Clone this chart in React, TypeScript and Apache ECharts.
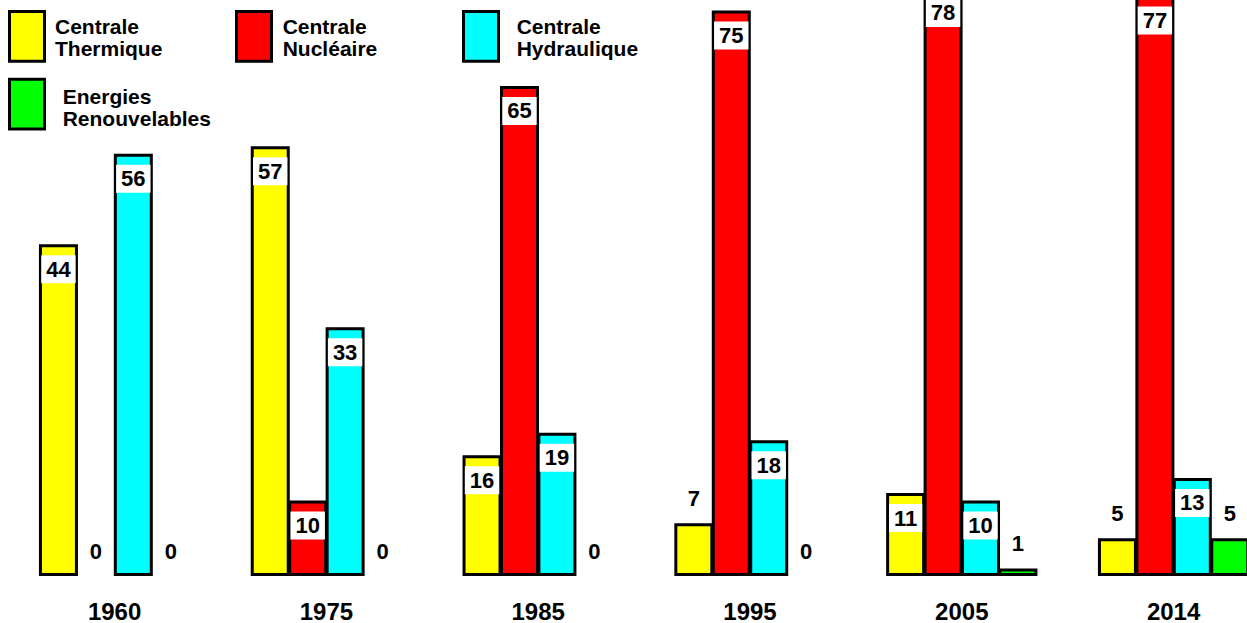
import React, { useEffect, useRef } from "react";
import * as echarts from "echarts";

const years = ["1960", "1975", "1985", "1995", "2005", "2014"];
const seriesNames = ["Centrale\nThermique", "Centrale\nNucléaire", "Centrale\nHydraulique", "Energies\nRenouvelables"];
const thermique = [44, 57, 16, 7, 11, 5];
const nucleaire = [0, 10, 65, 75, 78, 77];
const hydraulique = [56, 33, 19, 18, 10, 13];
const renouvelables = [0, 0, 0, 0, 1, 5];
const colors = ["#FFFF00", "#FF0000", "#00FFFF", "#00FF00"];

const FONT = '"Liberation Sans", Arial, Helvetica, sans-serif';
const OFFSET_Y = 30;
const CHART_W = 1300;
const CHART_H = 623 + OFFSET_Y;

export default function App() {
  const ref = useRef<HTMLDivElement>(null);
  useEffect(() => {
    if (!ref.current) return;
    const chart = echarts.init(ref.current, null, { renderer: "svg" });
    const allData = [thermique, nucleaire, hydraulique, renouvelables];

    const insideLabel = {
      show: true,
      position: "insideTop",
      distance: 11,
      color: "#000",
      fontFamily: FONT,
      fontWeight: "bold",
      fontSize: 22,
      lineHeight: 22,
      backgroundColor: "#fff",
      padding: [3, 5, 3, 5],
    };
    const topLabel = {
      show: true,
      position: "top",
      distance: 14,
      color: "#000",
      fontFamily: FONT,
      fontWeight: "bold",
      fontSize: 22,
      lineHeight: 22,
    };

    const series = allData.map((arr, i) => ({
      type: "bar",
      name: seriesNames[i],
      barWidth: 39,
      barGap: "-4%",
      itemStyle: { color: colors[i], borderColor: "#000", borderWidth: 3 },
      data: arr.map((v) => ({
        value: v,
        label: v >= 10 ? insideLabel : topLabel,
        itemStyle: v === 0 ? { borderWidth: 0 } : undefined,
      })),
    }));

    const legendX = [8, 235, 462, 8];
    const legendY = [10, 10, 10, 77.7];
    const textX = [55, 282.7, 516.7, 62.7];
    const textY = [15, 15, 15, 85];
    const graphic: any[] = [];
    seriesNames.forEach((name, i) => {
      graphic.push({
        type: "rect",
        shape: { x: legendX[i] + 1.5, y: legendY[i] + 1.5 + OFFSET_Y, width: 35, height: 49.7 },
        style: { fill: colors[i], stroke: "#000", lineWidth: 3 },
      });
      graphic.push({
        type: "text",
        x: textX[i],
        y: textY[i] + OFFSET_Y,
        style: {
          text: name,
          font: `bold 21px ${FONT}`,
          fill: "#000",
          lineHeight: 22,
          verticalAlign: "top",
          align: "left",
        },
      });
    });

    chart.setOption({
      animation: false,
      backgroundColor: "#fff",
      grid: {
        left: 8.7,
        width: 1270.8,
        top: OFFSET_Y - 27.2,
        bottom: 47,
      },
      xAxis: {
        type: "category",
        data: years,
        axisLine: { show: false },
        axisTick: { show: false },
        axisLabel: {
          margin: 23,
          color: "#000",
          fontFamily: FONT,
          fontWeight: "bold",
          fontSize: 24,
          lineHeight: 24,
        },
      },
      yAxis: {
        type: "value",
        min: 0,
        max: 80,
        show: false,
        splitLine: { show: false },
      },
      series,
      graphic,
    });
    return () => chart.dispose();
  }, []);
  return (
    <div
      style={{
        position: "absolute",
        left: 0,
        top: 0,
        width: 1247,
        height: 623,
        overflow: "hidden",
        background: "#fff",
      }}
    >
      <div
        ref={ref}
        style={{ position: "absolute", left: 0, top: -OFFSET_Y, width: CHART_W, height: CHART_H }}
      />
    </div>
  );
}
